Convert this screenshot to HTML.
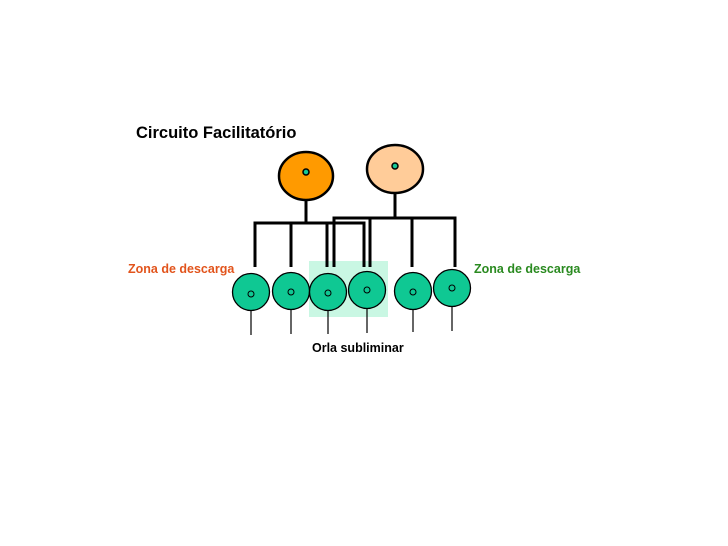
<!DOCTYPE html>
<html><head><meta charset="utf-8"><style>
html,body{margin:0;padding:0;background:#fff;}
svg{display:block;}
text{font-family:"Liberation Sans",Arial,sans-serif;font-weight:bold;}
</style></head><body>
<svg width="728" height="546" viewBox="0 0 728 546" xmlns="http://www.w3.org/2000/svg">
<rect x="309" y="261" width="79" height="56" fill="#c9f7e3"/>
<text x="136" y="138" font-size="16.5" fill="#000">Circuito Facilitatório</text>
<text x="128" y="273" font-size="12.5" fill="#e2541c">Zona de descarga</text>
<text x="474" y="273" font-size="12.5" fill="#2a8a20">Zona de descarga</text>
<text x="312" y="352" font-size="12.5" fill="#000">Orla subliminar</text>
<g stroke="#000" stroke-width="3" fill="none">
<path d="M306 200V223M255 267V223H364V267M291 223V267M327 223V267"/>
<path d="M395 193V218M334 267V218H455V267M370 218V267M412 218V267"/>
</g>
<g stroke="#000" stroke-width="1.2">
<path d="M251 310V335M291 309V334M328 310V334M367 308V333M413 309V332M452 306V331"/>
</g>
<ellipse cx="306" cy="176" rx="27" ry="24" fill="#ff9a00" stroke="#000" stroke-width="2.5"/>
<ellipse cx="395" cy="169" rx="28" ry="24" fill="#ffcc99" stroke="#000" stroke-width="2.5"/>
<circle cx="306" cy="172" r="3" fill="#14c896" stroke="#000" stroke-width="1.5"/>
<circle cx="395" cy="166" r="3" fill="#14c896" stroke="#000" stroke-width="1.5"/>
<g fill="#0fc893" stroke="#000" stroke-width="1.3">
<circle cx="251" cy="292" r="18.5"/>
<circle cx="291" cy="291" r="18.5"/>
<circle cx="328" cy="292" r="18.5"/>
<circle cx="367" cy="290" r="18.5"/>
<circle cx="413" cy="291" r="18.5"/>
<circle cx="452" cy="288" r="18.5"/>
</g>
<g fill="none" stroke="#000" stroke-width="1">
<circle cx="251" cy="294" r="3"/>
<circle cx="291" cy="292" r="3"/>
<circle cx="328" cy="293" r="3"/>
<circle cx="367" cy="290" r="3"/>
<circle cx="413" cy="292" r="3"/>
<circle cx="452" cy="288" r="3"/>
</g>
</svg>
</body></html>
